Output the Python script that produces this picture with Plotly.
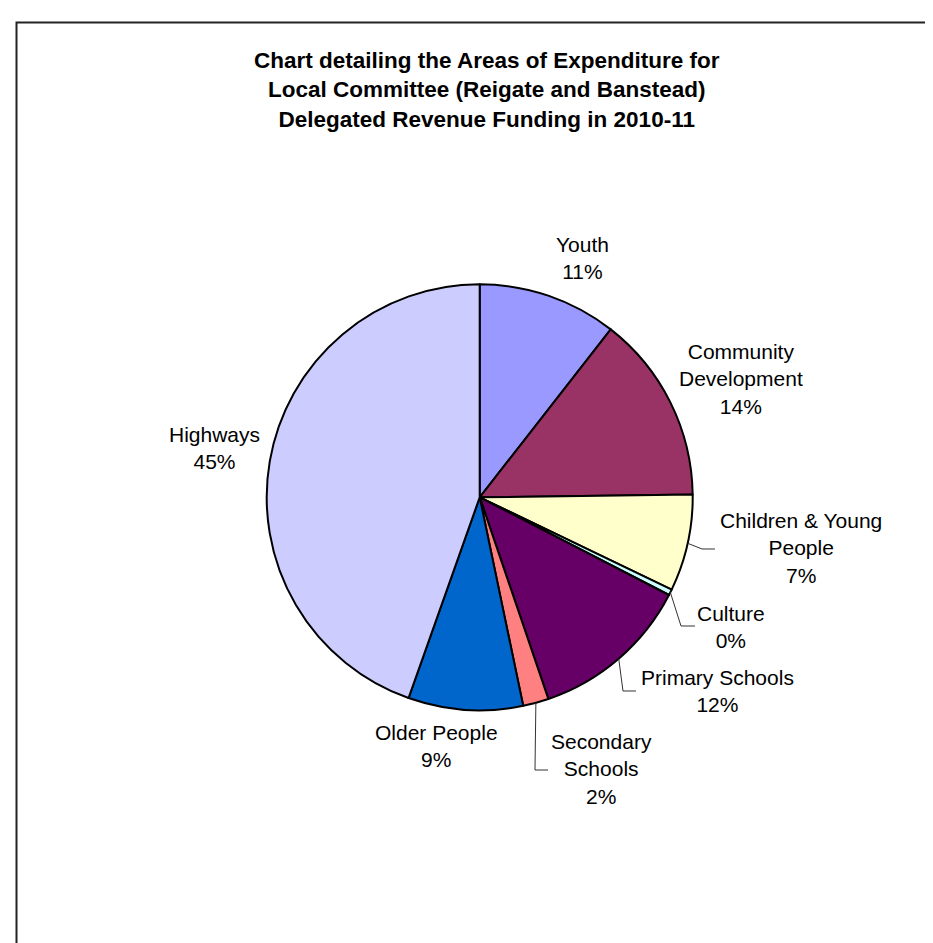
import math
import plotly.graph_objects as go

# ---- data ----
categories = ["Youth", "Community Development", "Children & Young People", "Culture",
              "Primary Schools", "Secondary Schools", "Older People", "Highways"]
values = [10.55, 14.25, 7.35, 0.45, 12.2, 1.95, 8.7, 44.6]
label_lines = ["Youth", "Community<br>Development", "Children & Young<br>People", "Culture",
               "Primary Schools", "Secondary<br>Schools", "Older People", "Highways"]
colors = ["#9999FF", "#993366", "#FFFFCC", "#CCFFFF", "#660066", "#FF8080", "#0066CC", "#CCCCFF"]
title_text = ("Chart detailing the Areas of Expenditure for<br>"
              "Local Committee (Reigate and Banstead)<br>"
              "Delegated Revenue Funding in 2010-11")

# ---- layout constants (pixels) ----
W, H = 933, 943
CX, CY, R = 471.7, 489.3, 213.0
FONT = "Liberation Sans, Arial, sans-serif"
# label block centres
label_pos = {
    "Youth": (574, 249.5),
    "Community Development": (733, 371),
    "Children & Young People": (793, 540),
    "Culture": (723, 619),
    "Primary Schools": (709.5, 682.5),
    "Secondary Schools": (593, 761),
    "Older People": (428, 737.5),
    "Highways": (206.5, 440.5),
}
# leader lines: (elbow, end) points in pixels
leaders = {
    "Children & Young People": [(694, 541), (707, 541)],
    "Culture": [(673, 618), (687, 618)],
    "Primary Schools": [(615, 683), (628, 683)],
    "Secondary Schools": [(527, 762), (540, 762)],
}


def px(x):
    return x / W


def py(y):
    return 1 - y / H


fig = go.Figure()
fig.add_trace(go.Pie(
    labels=categories, values=values, sort=False, direction="clockwise", rotation=0,
    marker=dict(colors=colors, line=dict(color="black", width=2)),
    textinfo="none", hoverinfo="label+percent", showlegend=False,
    domain=dict(x=[px(CX - R), px(CX + R)], y=[py(CY + R), py(CY - R)]),
))

total = sum(values)
cum = 0.0
annotations = []
shapes = []
for cat, v, txt in zip(categories, values, label_lines):
    mid = (cum + v / 2) / total * 2 * math.pi
    cum += v
    pct = round(v / total * 100)
    lx, ly = label_pos[cat]
    annotations.append(dict(
        x=px(lx), y=py(ly), xref="paper", yref="paper", showarrow=False,
        text=f"{txt}<br>{pct}%", align="center", xanchor="center", yanchor="middle",
        font=dict(family=FONT, size=21, color="black"),
    ))
    if cat in leaders:
        sx = CX + R * math.sin(mid)
        sy = CY - R * math.cos(mid)
        pts = [(sx, sy)] + leaders[cat]
        path = "M " + " L ".join(f"{px(a):.5f},{py(b):.5f}" for a, b in pts)
        shapes.append(dict(type="path", path=path, xref="paper", yref="paper",
                           line=dict(color="#333333", width=1)))

annotations.append(dict(
    x=px(478.5), y=py(82), xref="paper", yref="paper", showarrow=False,
    text=f"<b>{title_text}</b>", align="center", xanchor="center", yanchor="middle",
    font=dict(family=FONT, size=22.5, color="black"),
))

shapes.append(dict(type="rect", xref="paper", yref="paper",
                   x0=px(8.5), x1=1.05, y0=-0.05, y1=py(14.5),
                   line=dict(color="#222222", width=2), fillcolor="rgba(0,0,0,0)"))

fig.update_layout(
    width=W, height=H, margin=dict(l=0, r=0, t=0, b=0),
    paper_bgcolor="white", plot_bgcolor="white",
    annotations=annotations, shapes=shapes,
)

fig.write_html("out.html")
